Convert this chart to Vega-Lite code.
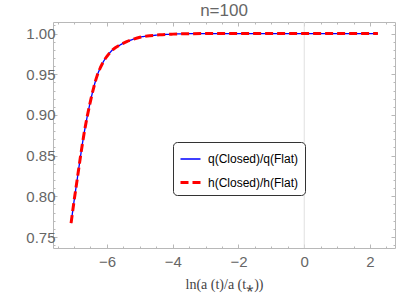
{
  "$schema": "https://vega.github.io/schema/vega-lite/v6.json",
  "width": 342,
  "height": 226,
  "autosize": "none",
  "padding": {"left": 53, "top": 22, "right": 1, "bottom": 58},
  "background": "white",
  "config": {
    "view": {"stroke": "#b8b8b8", "strokeWidth": 1},
    "font": "Liberation Sans",
    "axis": {
      "domain": false,
      "grid": false,
      "tickColor": "#b8b8b8",
      "labelColor": "#666666",
      "labelFont": "Liberation Sans",
      "labelFontSize": 15
    }
  },
  "title": {
    "text": "n=100",
    "fontSize": 17,
    "fontWeight": "normal",
    "color": "#666666",
    "font": "Liberation Sans",
    "offset": 2
  },
  "data": {
    "values": [
      {"x": -7.09, "y": 0.767, "series": "q(Closed)/q(Flat)"},
      {"x": -7.0, "y": 0.794, "series": "q(Closed)/q(Flat)"},
      {"x": -6.9, "y": 0.822, "series": "q(Closed)/q(Flat)"},
      {"x": -6.8, "y": 0.85, "series": "q(Closed)/q(Flat)"},
      {"x": -6.7, "y": 0.876, "series": "q(Closed)/q(Flat)"},
      {"x": -6.6, "y": 0.898, "series": "q(Closed)/q(Flat)"},
      {"x": -6.5, "y": 0.917, "series": "q(Closed)/q(Flat)"},
      {"x": -6.4, "y": 0.934, "series": "q(Closed)/q(Flat)"},
      {"x": -6.3, "y": 0.948, "series": "q(Closed)/q(Flat)"},
      {"x": -6.2, "y": 0.958, "series": "q(Closed)/q(Flat)"},
      {"x": -6.1, "y": 0.966, "series": "q(Closed)/q(Flat)"},
      {"x": -6.0, "y": 0.972, "series": "q(Closed)/q(Flat)"},
      {"x": -5.8, "y": 0.981, "series": "q(Closed)/q(Flat)"},
      {"x": -5.6, "y": 0.986, "series": "q(Closed)/q(Flat)"},
      {"x": -5.4, "y": 0.99, "series": "q(Closed)/q(Flat)"},
      {"x": -5.2, "y": 0.993, "series": "q(Closed)/q(Flat)"},
      {"x": -5.0, "y": 0.9955, "series": "q(Closed)/q(Flat)"},
      {"x": -4.7, "y": 0.9972, "series": "q(Closed)/q(Flat)"},
      {"x": -4.4, "y": 0.9984, "series": "q(Closed)/q(Flat)"},
      {"x": -4.0, "y": 0.9993, "series": "q(Closed)/q(Flat)"},
      {"x": -3.5, "y": 0.9998, "series": "q(Closed)/q(Flat)"},
      {"x": -3.0, "y": 1.0, "series": "q(Closed)/q(Flat)"},
      {"x": -2.0, "y": 1.0, "series": "q(Closed)/q(Flat)"},
      {"x": 0.0, "y": 1.0, "series": "q(Closed)/q(Flat)"},
      {"x": 2.24, "y": 1.0, "series": "q(Closed)/q(Flat)"},
      {"x": -7.09, "y": 0.767, "series": "h(Closed)/h(Flat)"},
      {"x": -7.0, "y": 0.794, "series": "h(Closed)/h(Flat)"},
      {"x": -6.9, "y": 0.822, "series": "h(Closed)/h(Flat)"},
      {"x": -6.8, "y": 0.85, "series": "h(Closed)/h(Flat)"},
      {"x": -6.7, "y": 0.876, "series": "h(Closed)/h(Flat)"},
      {"x": -6.6, "y": 0.898, "series": "h(Closed)/h(Flat)"},
      {"x": -6.5, "y": 0.917, "series": "h(Closed)/h(Flat)"},
      {"x": -6.4, "y": 0.934, "series": "h(Closed)/h(Flat)"},
      {"x": -6.3, "y": 0.948, "series": "h(Closed)/h(Flat)"},
      {"x": -6.2, "y": 0.958, "series": "h(Closed)/h(Flat)"},
      {"x": -6.1, "y": 0.966, "series": "h(Closed)/h(Flat)"},
      {"x": -6.0, "y": 0.972, "series": "h(Closed)/h(Flat)"},
      {"x": -5.8, "y": 0.981, "series": "h(Closed)/h(Flat)"},
      {"x": -5.6, "y": 0.986, "series": "h(Closed)/h(Flat)"},
      {"x": -5.4, "y": 0.99, "series": "h(Closed)/h(Flat)"},
      {"x": -5.2, "y": 0.993, "series": "h(Closed)/h(Flat)"},
      {"x": -5.0, "y": 0.9955, "series": "h(Closed)/h(Flat)"},
      {"x": -4.7, "y": 0.9972, "series": "h(Closed)/h(Flat)"},
      {"x": -4.4, "y": 0.9984, "series": "h(Closed)/h(Flat)"},
      {"x": -4.0, "y": 0.9993, "series": "h(Closed)/h(Flat)"},
      {"x": -3.5, "y": 0.9998, "series": "h(Closed)/h(Flat)"},
      {"x": -3.0, "y": 1.0, "series": "h(Closed)/h(Flat)"},
      {"x": -2.0, "y": 1.0, "series": "h(Closed)/h(Flat)"},
      {"x": 0.0, "y": 1.0, "series": "h(Closed)/h(Flat)"},
      {"x": 2.24, "y": 1.0, "series": "h(Closed)/h(Flat)"}
    ]
  },
  "resolve": {"axis": {"x": "independent", "y": "independent"}},
  "layer": [
    {
      "data": {"values": [{"x": 0}]},
      "mark": {"type": "rule", "color": "#e0e0e0", "strokeWidth": 1},
      "encoding": {
        "x": {"field": "x", "type": "quantitative", "scale": {"domain": [-7.64, 2.76], "nice": false, "zero": false}, "axis": null}
      }
    },
    {
      "transform": [{"filter": "datum.series === 'q(Closed)/q(Flat)'"}],
      "mark": {"type": "line", "interpolate": "monotone"},
      "encoding": {
        "x": {
          "field": "x", "type": "quantitative",
          "scale": {"domain": [-7.64, 2.76], "nice": false, "zero": false},
          "axis": {
            "orient": "bottom",
            "title": "ln(a (t)/a (t\u204e))",
            "titleFont": "Liberation Serif",
            "titleFontSize": 14,
            "titleFontWeight": "normal",
            "titleColor": "#444444",
            "titlePadding": 8,
            "values": [-7.5, -7, -6.5, -6, -5.5, -5, -4.5, -4, -3.5, -3, -2.5, -2, -1.5, -1, -0.5, 0, 0.5, 1, 1.5, 2, 2.5],
            "tickSize": {"condition": {"test": "datum.value % 2 === 0", "value": -4}, "value": -2},
            "labelExpr": "datum.value % 2 === 0 ? replace(format(datum.value, 'd'), '-', '\u2212') : ''",
            "labelPadding": 10
          }
        },
        "y": {
          "field": "y", "type": "quantitative",
          "scale": {"domain": [0.7365, 1.0142], "nice": false, "zero": false},
          "axis": {
            "orient": "left",
            "title": null,
            "format": ".2f",
            "values": [0.74, 0.75, 0.76, 0.77, 0.78, 0.79, 0.8, 0.81, 0.82, 0.83, 0.84, 0.85, 0.86, 0.87, 0.88, 0.89, 0.9, 0.91, 0.92, 0.93, 0.94, 0.95, 0.96, 0.97, 0.98, 0.99, 1.0, 1.01],
            "tickSize": {"condition": {"test": "abs(round(datum.value * 100)) % 5 === 0", "value": -4}, "value": -2},
            "labelExpr": "abs(round(datum.value * 100)) % 5 === 0 ? datum.label : ''",
            "labelPadding": 2
          }
        },
        "color": {
          "field": "series", "type": "nominal",
          "scale": {"domain": ["q(Closed)/q(Flat)", "h(Closed)/h(Flat)"], "range": ["#0000ff", "#ff0000"]},
          "legend": {
            "orient": "none", "legendX": 120, "legendY": 120, "title": null,
            "strokeColor": "#333333", "cornerRadius": 4, "padding": 6, "fillColor": "white",
            "symbolType": "stroke", "symbolSize": 400, "labelFontSize": 12, "labelColor": "#000000",
            "labelFont": "Liberation Sans", "labelOffset": 6, "rowPadding": 6
          }
        },
        "strokeDash": {
          "field": "series", "type": "nominal",
          "scale": {"domain": ["q(Closed)/q(Flat)", "h(Closed)/h(Flat)"], "range": [[1, 0], [8, 4]]}
        },
        "strokeWidth": {
          "field": "series", "type": "nominal",
          "scale": {"domain": ["q(Closed)/q(Flat)", "h(Closed)/h(Flat)"], "range": [1.3, 3]}
        }
      }
    },
    {
      "transform": [{"filter": "datum.series === 'h(Closed)/h(Flat)'"}],
      "mark": {"type": "line", "interpolate": "monotone"},
      "encoding": {
        "x": {
          "field": "x", "type": "quantitative",
          "scale": {"domain": [-7.64, 2.76], "nice": false, "zero": false},
          "axis": {
            "orient": "top",
            "title": null,
            "labels": false,
            "values": [-7.5, -7, -6.5, -6, -5.5, -5, -4.5, -4, -3.5, -3, -2.5, -2, -1.5, -1, -0.5, 0, 0.5, 1, 1.5, 2, 2.5],
            "tickSize": {"condition": {"test": "datum.value % 2 === 0", "value": -4}, "value": -2}
          }
        },
        "y": {
          "field": "y", "type": "quantitative",
          "scale": {"domain": [0.7365, 1.0142], "nice": false, "zero": false},
          "axis": {
            "orient": "right",
            "title": null,
            "labels": false,
            "values": [0.74, 0.75, 0.76, 0.77, 0.78, 0.79, 0.8, 0.81, 0.82, 0.83, 0.84, 0.85, 0.86, 0.87, 0.88, 0.89, 0.9, 0.91, 0.92, 0.93, 0.94, 0.95, 0.96, 0.97, 0.98, 0.99, 1.0, 1.01],
            "tickSize": {"condition": {"test": "abs(round(datum.value * 100)) % 5 === 0", "value": -4}, "value": -2}
          }
        },
        "color": {"field": "series", "type": "nominal"},
        "strokeDash": {"field": "series", "type": "nominal"},
        "strokeWidth": {"field": "series", "type": "nominal"}
      }
    }
  ]
}
